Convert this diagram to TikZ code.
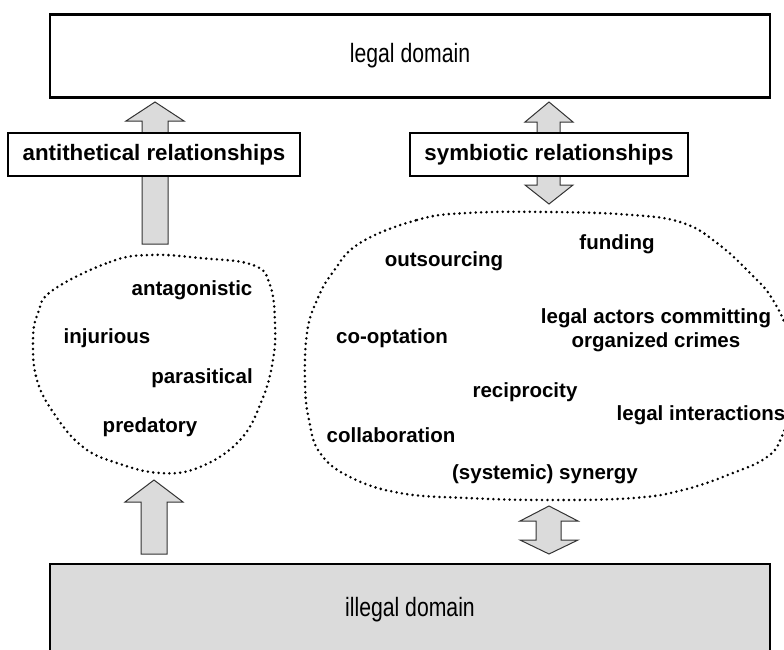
\documentclass[tikz,border=0pt]{standalone}
\usepackage{fontspec}
\setmainfont{Liberation Sans}
\newfontfamily\domainfont[FakeStretch=0.8]{Liberation Sans}

\begin{document}
\begin{tikzpicture}[x=1pt, y=-1pt,
	domainbox/.style={draw=black, line width=2.5pt, minimum width=720pt, minimum height=83pt, font=\domainfont\fontsize{26.5}{30}\selectfont},
	relbox/.style={draw=black, line width=2.5pt, fill=white, minimum height=43pt, font=\fontsize{22.3}{26}\selectfont\bfseries},
	word/.style={font=\fontsize{20.5}{24}\selectfont\bfseries, align=center, inner sep=0pt},
	blockarrow/.style={draw=black!80, line width=1pt, fill=black!14, line join=miter},
	cloudline/.style={line width=2.8pt, line cap=round, dash pattern=on 0pt off 5.4pt}]
	\useasboundingbox (0,0) rectangle (784,649);
	% block arrows
	\draw[blockarrow] (155,102) -- (184,121) -- (168,121) -- (168,244) -- (142,244) -- (142,121) -- (126,121) -- cycle;
	\draw[blockarrow] (549,102) -- (573,122) -- (560,122) -- (560,185) -- (573,185) -- (549,204) -- (525,185) -- (537,185) -- (537,122) -- (525,122) -- cycle;
	\draw[blockarrow] (154,480) -- (183,502) -- (167,502) -- (167,554) -- (141,554) -- (141,502) -- (125,502) -- cycle;
	\draw[blockarrow] (549,506) -- (578,521) -- (561,521) -- (561,540) -- (578,540) -- (549,554) -- (520,540) -- (536,540) -- (536,521) -- (520,521) -- cycle;
	% domains
	\node[domainbox] (legal) at (410,56) {legal domain};
	\node[domainbox, fill=black!14, minimum height=92pt] (illegal) at (410,610) {illegal domain};
	\node[relbox, minimum width=292pt] (anti) at (154,154.5) {antithetical relationships};
	\node[relbox, minimum width=278pt] (symb) at (549,154.5) {symbiotic relationships};
	% left cloud
	\draw[cloudline] plot[smooth cycle, tension=0.7] coordinates {(53,290) (110,262) (150,255) (200,258) (253,265) (270,285) (275,323) (273,360) (262,400) (240,440) (200,467) (160,473) (117,463) (83,447) (55,415) (37,380) (33,340) (38,313)};
	\node[word] (antag) at (192,290) {antagonistic};
	\node[word] (injur) at (107,338) {injurious};
	\node[word] (paras) at (202,378) {parasitical};
	\node[word] (preda) at (150,427) {predatory};
	% right cloud
	\draw[cloudline] plot[smooth cycle, tension=0.7] coordinates {(360,243) (417,220) (467,213) (550,212) (633,215) (683,223) (717,243) (750,273) (773,300) (790,340) (795,390) (782,436) (767,457) (733,473) (683,490) (633,498) (550,500) (467,498) (400,493) (350,477) (320,453) (309,420) (305,383) (307,333) (317,300) (333,272)};
	\node[word] (outs) at (444,261) {outsourcing};
	\node[word] (fund) at (617,244) {funding};
	\node[word] (actors) at (656,330) {legal actors committing\\organized crimes};
	\node[word] (coopt) at (392,338) {co-optation};
	\node[word] (recip) at (525,392) {reciprocity};
	\node[word] (inter) at (701,415) {legal interactions};
	\node[word] (collab) at (391,435) {collaboration};
	\node[word] (syner) at (545,474) {(systemic) synergy};
\end{tikzpicture}
\end{document}
